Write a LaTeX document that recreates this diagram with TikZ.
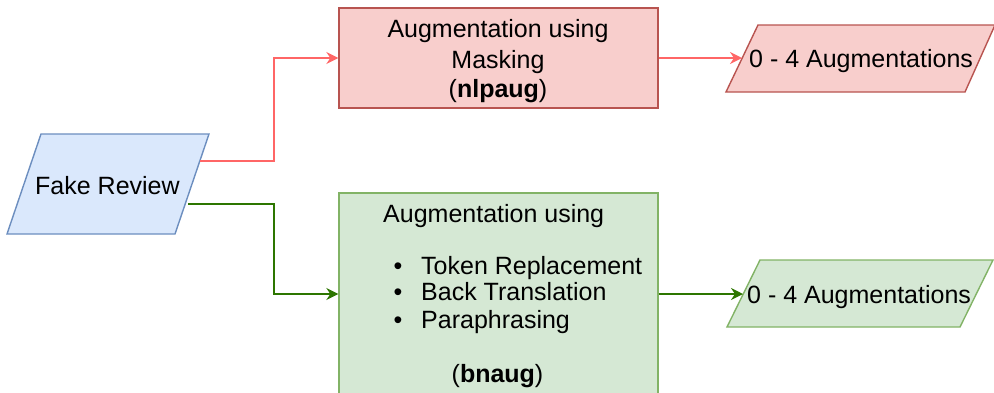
\documentclass[tikz,border=0pt]{standalone}
\usepackage{fontspec}
\setmainfont{Liberation Sans}
\usetikzlibrary{arrows.meta}
\definecolor{bluefill}{HTML}{DAE8FC}
\definecolor{bluedraw}{HTML}{6C8EBF}
\definecolor{redfill}{HTML}{F8CECC}
\definecolor{reddraw}{HTML}{B85450}
\definecolor{greenfill}{HTML}{D5E8D4}
\definecolor{greendraw}{HTML}{82B366}
\definecolor{redline}{HTML}{FF6666}
\definecolor{greenline}{HTML}{2D7600}
\begin{document}
\begin{tikzpicture}[x=1pt,y=-1pt,
  txt/.style={inner sep=0pt, font=\fontsize{25}{30}\selectfont},
  bluebox/.style={draw=bluedraw, fill=bluefill, line width=1.4pt, line join=miter},
  redbox/.style={draw=reddraw, fill=redfill, line width=1.4pt},
  greenbox/.style={draw=greendraw, fill=greenfill, line width=1.4pt},
  redarrow/.style={draw=redline, line width=1.4pt, -{Stealth[length=12pt, width=12pt, inset=4pt]}},
  greenarrow/.style={draw=greenline, line width=1.4pt, -{Stealth[length=12pt, width=12pt, inset=4pt]}}]
\useasboundingbox (0,0) rectangle (994,392);

% Fake Review
\draw[bluebox] (41,134) -- (209,134) -- (175,234) -- (7,234) -- cycle;
\node[txt, anchor=base west] (fake) at (35,194) {Fake Review};
\coordinate (fakeA) at (200,161);
\coordinate (fakeB) at (188,204);

% boxes
\node[redbox, minimum width=319pt, minimum height=100pt, inner sep=0pt] (mask) at (498.5,58) {};
\node[greenbox, minimum width=319pt, minimum height=202pt, inner sep=0pt] (bn) at (498.5,294) {};

\node[txt, anchor=base] (m1) at (498,37) {Augmentation using};
\node[txt, anchor=base] (m2) at (498,68) {Masking};
\node[txt, anchor=base] (m3) at (498,97) {(\textbf{nlpaug})};

\node[txt, anchor=base west] (b0) at (383,222) {Augmentation using};
\node[txt, anchor=base] (d1) at (398,274) {\textbullet};
\node[txt, anchor=base] (d2) at (398,300) {\textbullet};
\node[txt, anchor=base] (d3) at (398,328) {\textbullet};
\node[txt, anchor=base west] (b1) at (421,274) {Token Replacement};
\node[txt, anchor=base west] (b2) at (421,300) {Back Translation};
\node[txt, anchor=base west] (b3) at (421,328) {Paraphrasing};
\node[txt, anchor=base] (b4) at (497.5,382) {(\textbf{bnaug})};

% output parallelograms
\draw[redbox] (758,25) -- (995,25) -- (965,92) -- (726,92) -- cycle;
\node[txt, anchor=base west] (outR) at (749,67) {0 - 4 Augmentations};
\coordinate (augR) at (742,58);

\draw[greenbox] (760,260) -- (993,260) -- (960,327) -- (727,327) -- cycle;
\node[txt, anchor=base west] (outG) at (747,303) {0 - 4 Augmentations};
\coordinate (augG) at (743,294);

% connectors
\draw[redarrow] (fakeA) -- ++(74,0) |- (mask.west);
\draw[greenarrow] (fakeB) -- ++(86,0) |- (bn.west);
\draw[redarrow] (mask.east) -- (augR);
\draw[greenarrow] (bn.east) -- (augG);
\end{tikzpicture}
\end{document}
